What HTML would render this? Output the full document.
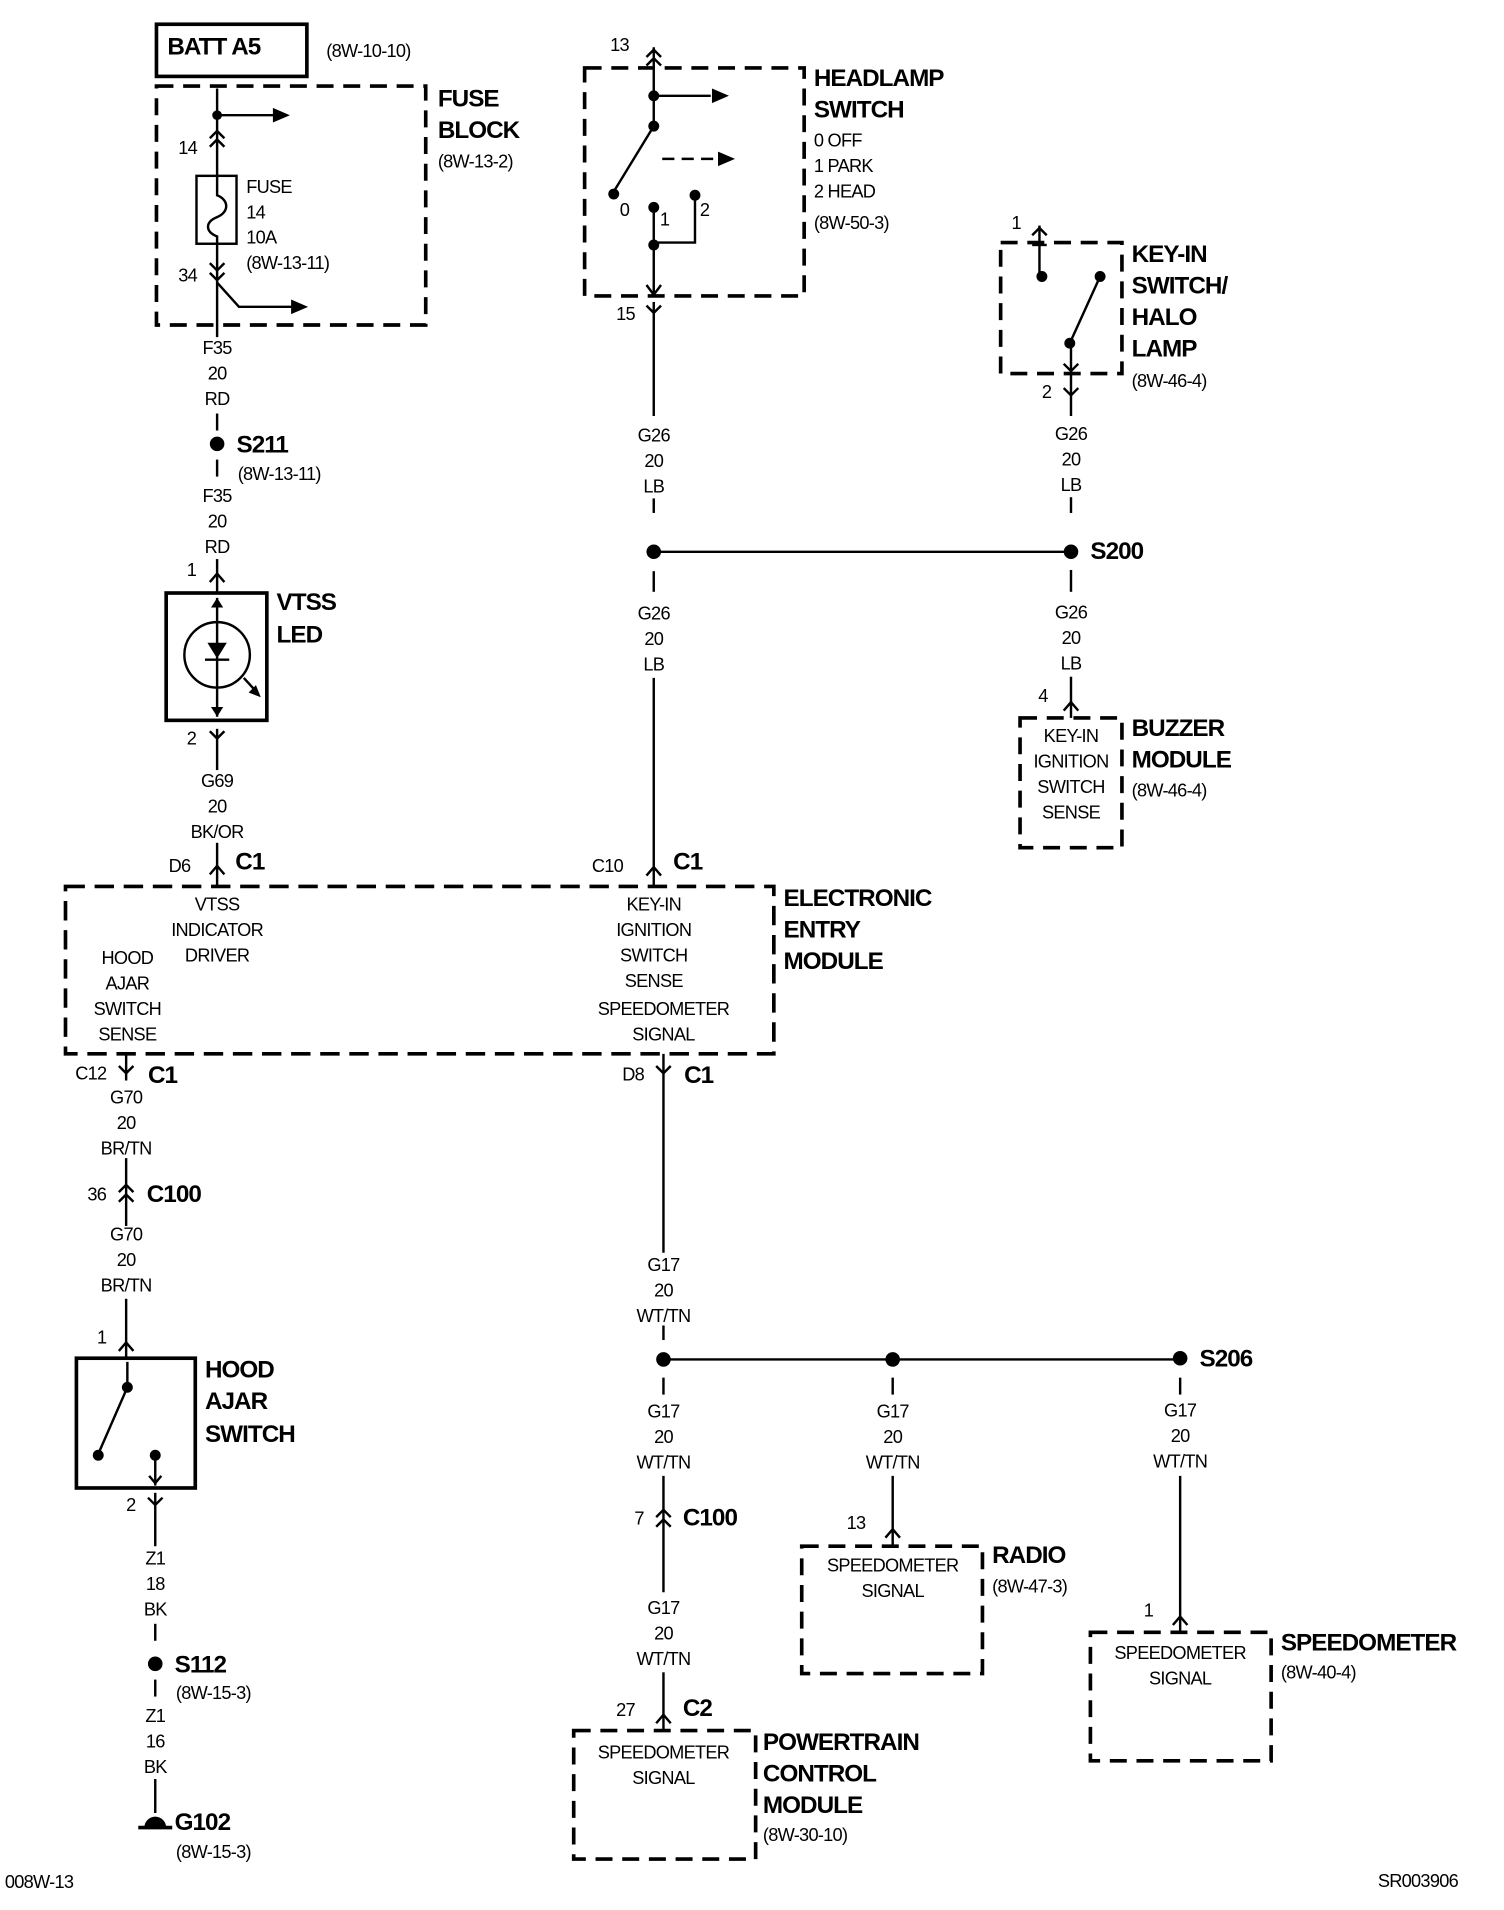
<!DOCTYPE html>
<html><head><meta charset="utf-8"><style>
html,body{margin:0;padding:0;background:#fff}
svg{display:block}
text{font-family:"Liberation Sans",sans-serif;fill:#000}
.s{font-size:15px;letter-spacing:-0.6px}
.b{font-size:20px;font-weight:bold;letter-spacing:-0.8px}
.c{text-anchor:middle}
</style></head><body>
<svg width="1504" height="1910" viewBox="0 0 1240 1575" preserveAspectRatio="none" xmlns="http://www.w3.org/2000/svg">
<g transform="translate(1,3)">
<g fill="none" stroke="#000" stroke-width="2">
<rect x="128" y="17" width="124" height="43" stroke-width="3"/>
<rect x="128" y="68" width="222" height="197" stroke-width="3" stroke-dasharray="14,8"/>
<line x1="178" y1="70" x2="178" y2="142"/>
<line x1="178" y1="92" x2="225" y2="92"/>
<polyline points="172,111 178,105 184,111"/><polyline points="172,118 178,112 184,118"/>
<rect x="161" y="142" width="33" height="56"/>
<path d="M178,142 L178,158 C188,162 188,172 178,176 C168,180 168,188 178,192 L178,198"/>
<line x1="178" y1="198" x2="178" y2="275"/>
<polyline points="172,214 178,220 184,214"/><polyline points="172,222 178,228 184,222"/>
<polyline points="178,230 196,250 240,250"/>
<line x1="178" y1="338" x2="178" y2="352"/><line x1="178" y1="376" x2="178" y2="390"/>
<line x1="178" y1="458" x2="178" y2="486"/>
<polyline points="172,477 178,470 184,477"/>
<rect x="136" y="486" width="83" height="105" stroke-width="3"/>
<circle cx="178" cy="537" r="27"/>
<line x1="178" y1="490" x2="178" y2="588"/>
<line x1="168" y1="541" x2="188" y2="541"/>
<line x1="178" y1="598" x2="178" y2="632"/>
<polyline points="172,600 178,606 184,600"/>
<line x1="200" y1="556" x2="210" y2="567"/>
<line x1="178" y1="692" x2="178" y2="728"/>
<polyline points="172,718 178,711 184,718"/>
<rect x="53" y="728" width="584" height="138" stroke-width="3" stroke-dasharray="16,8"/>
<line x1="103" y1="866" x2="103" y2="888"/>
<polyline points="97,876 103,882 109,876"/>
<line x1="103" y1="952" x2="103" y2="1008"/>
<polyline points="97,980 103,974 109,980"/><polyline points="97,988 103,982 109,988"/>
<line x1="103" y1="1068" x2="103" y2="1117"/>
<polyline points="97,1111 103,1104 109,1111"/>
<rect x="62" y="1117" width="98" height="107" stroke-width="3"/>
<line x1="104" y1="1120" x2="104" y2="1141"/>
<line x1="104" y1="1141" x2="80" y2="1196"/>
<line x1="127" y1="1197" x2="127" y2="1222"/>
<polyline points="122,1214 127,1220 132,1214"/>
<line x1="127" y1="1228" x2="127" y2="1272"/>
<polyline points="121,1232 127,1238 133,1232"/>
<line x1="127" y1="1336" x2="127" y2="1350"/><line x1="127" y1="1382" x2="127" y2="1396"/>
<line x1="127" y1="1464" x2="127" y2="1492"/>
<line x1="113" y1="1504" x2="141" y2="1504" stroke-width="3"/>
<rect x="481" y="53" width="181" height="188" stroke-width="3" stroke-dasharray="14,8"/>
<line x1="538" y1="36" x2="538" y2="101"/>
<polyline points="532,44 538,38 544,44"/><polyline points="532,51 538,45 544,51"/>
<line x1="538" y1="76" x2="585" y2="76"/>
<line x1="538" y1="101" x2="505" y2="155"/>
<line x1="545" y1="128" x2="590" y2="128" stroke-dasharray="10,6"/>
<polyline points="538,168 538,240"/>
<polyline points="572,158 572,197 538,197"/>
<polyline points="532,232 538,240 544,232"/>
<line x1="538" y1="246" x2="538" y2="340"/>
<polyline points="532,249 538,255 544,249"/>
<line x1="538" y1="408" x2="538" y2="420"/>
<line x1="538" y1="452" x2="882" y2="452"/>
<line x1="538" y1="468" x2="538" y2="485"/>
<line x1="538" y1="556" x2="538" y2="728"/>
<polyline points="532,719 538,712 544,719"/>
<rect x="824" y="197" width="100" height="108" stroke-width="3" stroke-dasharray="14,8"/>
<line x1="856" y1="183" x2="856" y2="225"/>
<polyline points="850,191 856,185 862,191"/>
<line x1="850" y1="199" x2="862" y2="199"/>
<line x1="906" y1="225" x2="881" y2="280"/>
<line x1="882" y1="280" x2="882" y2="340"/>
<polyline points="876,297 882,303 888,297"/>
<polyline points="876,317 882,323 888,317"/>
<line x1="882" y1="407" x2="882" y2="420"/>
<line x1="882" y1="467" x2="882" y2="485"/>
<line x1="882" y1="555" x2="882" y2="589"/>
<polyline points="876,583 882,576 888,583"/>
<rect x="840" y="589" width="84" height="107" stroke-width="3" stroke-dasharray="14,8"/>
<line x1="546" y1="866" x2="546" y2="1030"/>
<polyline points="540,876 546,882 552,876"/>
<line x1="546" y1="1090" x2="546" y2="1102"/>
<line x1="546" y1="1118" x2="972" y2="1118"/>
<line x1="546" y1="1133" x2="546" y2="1147"/>
<line x1="735" y1="1133" x2="735" y2="1147"/>
<line x1="972" y1="1133" x2="972" y2="1147"/>
<line x1="546" y1="1214" x2="546" y2="1310"/>
<polyline points="540,1248 546,1242 552,1248"/><polyline points="540,1256 546,1250 552,1256"/>
<line x1="546" y1="1376" x2="546" y2="1424"/>
<polyline points="540,1418 546,1411 552,1418"/>
<rect x="472" y="1424" width="150" height="106" stroke-width="3" stroke-dasharray="14,8"/>
<line x1="735" y1="1214" x2="735" y2="1272"/>
<polyline points="729,1265 735,1258 741,1265"/>
<rect x="660" y="1272" width="149" height="105" stroke-width="3" stroke-dasharray="14,8"/>
<line x1="972" y1="1214" x2="972" y2="1343"/>
<polyline points="966,1337 972,1330 978,1337"/>
<rect x="898" y="1343" width="149" height="106" stroke-width="3" stroke-dasharray="14,8"/>
</g>
<g fill="#000" stroke="none">
<polygon points="238,92 224,86 224,98"/>
<polygon points="253,250 239,244 239,256"/>
<circle cx="178" cy="92" r="4"/>
<circle cx="178" cy="363" r="6"/>
<polygon points="170,527 186,527 178,540"/>
<polygon points="178,490 173,498 183,498"/>
<polygon points="178,588 173,580 183,580"/>
<polygon points="214,572 204,568 210,562"/>
<circle cx="104" cy="1141" r="4.5"/><circle cx="80" cy="1197" r="4.5"/><circle cx="127" cy="1197" r="4.5"/>
<circle cx="127" cy="1369" r="6"/>
<path d="M118,1504 A9,9 0 0 1 136,1504 Z"/>
<polygon points="600,76 586,70 586,82"/>
<polygon points="605,128 591,122 591,134"/>
<circle cx="538" cy="76" r="4.5"/><circle cx="538" cy="101" r="4.5"/><circle cx="505" cy="157" r="4.5"/>
<circle cx="538" cy="168" r="4.5"/><circle cx="572" cy="158" r="4.5"/><circle cx="538" cy="199" r="4.5"/>
<circle cx="538" cy="452" r="6"/><circle cx="882" cy="452" r="6"/>
<circle cx="858" cy="225" r="4.5"/><circle cx="906" cy="225" r="4.5"/><circle cx="881" cy="280" r="4.5"/>
<circle cx="546" cy="1118" r="6"/><circle cx="735" cy="1118" r="6"/><circle cx="972" cy="1117" r="6"/>
</g>
<text class="b" x="137" y="42">BATT A5</text>
<text class="s" x="268" y="44">(8W-10-10)</text>
<text class="b" x="360" y="85">FUSE</text><text class="b" x="360" y="111">BLOCK</text>
<text class="s" x="360" y="135">(8W-13-2)</text>
<text class="s" x="146" y="124">14</text>
<text class="s" x="202" y="156">FUSE</text><text class="s" x="202" y="177">14</text><text class="s" x="202" y="198">10A</text><text class="s" x="202" y="219">(8W-13-11)</text>
<text class="s" x="146" y="229">34</text>
<g class="s c"><text x="178" y="289">F35</text><text x="178" y="310">20</text><text x="178" y="331">RD</text>
<text x="178" y="411">F35</text><text x="178" y="432">20</text><text x="178" y="453">RD</text>
<text x="178" y="646">G69</text><text x="178" y="667">20</text><text x="178" y="688">BK/OR</text></g>
<text class="b" x="194" y="370">S211</text><text class="s" x="195" y="393">(8W-13-11)</text>
<text class="s" x="153" y="472">1</text>
<text class="b" x="227" y="500">VTSS</text><text class="b" x="227" y="527">LED</text>
<text class="s" x="153" y="611">2</text>
<text class="s" x="138" y="716">D6</text><text class="b" x="193" y="714">C1</text>
<g class="s c"><text x="178" y="748">VTSS</text><text x="178" y="769">INDICATOR</text><text x="178" y="790">DRIVER</text>
<text x="104" y="792">HOOD</text><text x="104" y="813">AJAR</text><text x="104" y="834">SWITCH</text><text x="104" y="855">SENSE</text>
<text x="538" y="748">KEY-IN</text><text x="538" y="769">IGNITION</text><text x="538" y="790">SWITCH</text><text x="538" y="811">SENSE</text>
<text x="546" y="834">SPEEDOMETER</text><text x="546" y="855">SIGNAL</text></g>
<text class="b" x="645" y="744">ELECTRONIC</text><text class="b" x="645" y="770">ENTRY</text><text class="b" x="645" y="796">MODULE</text>
<text class="s" x="61" y="887">C12</text><text class="b" x="121" y="890">C1</text>
<g class="s c"><text x="103" y="907">G70</text><text x="103" y="928">20</text><text x="103" y="949">BR/TN</text>
<text x="103" y="1020">G70</text><text x="103" y="1041">20</text><text x="103" y="1062">BR/TN</text></g>
<text class="s" x="71" y="987">36</text><text class="b" x="120" y="988">C100</text>
<text class="s" x="79" y="1105">1</text>
<text class="b" x="168" y="1133">HOOD</text><text class="b" x="168" y="1159">AJAR</text><text class="b" x="168" y="1186">SWITCH</text>
<text class="s" x="103" y="1243">2</text>
<g class="s c"><text x="127" y="1287">Z1</text><text x="127" y="1308">18</text><text x="127" y="1329">BK</text>
<text x="127" y="1417">Z1</text><text x="127" y="1438">16</text><text x="127" y="1459">BK</text></g>
<text class="b" x="143" y="1376">S112</text><text class="s" x="144" y="1398">(8W-15-3)</text>
<text class="b" x="143" y="1506">G102</text><text class="s" x="144" y="1529">(8W-15-3)</text>
<text class="s" x="502" y="39">13</text>
<text class="b" x="670" y="68">HEADLAMP</text><text class="b" x="670" y="94">SWITCH</text>
<text class="s" x="670" y="118">0 OFF</text><text class="s" x="670" y="139">1 PARK</text><text class="s" x="670" y="160">2 HEAD</text><text class="s" x="670" y="186">(8W-50-3)</text>
<text class="s" x="510" y="175">0</text><text class="s" x="543" y="183">1</text><text class="s" x="576" y="175">2</text>
<text class="s" x="507" y="261">15</text>
<g class="s c"><text x="538" y="361">G26</text><text x="538" y="382">20</text><text x="538" y="403">LB</text>
<text x="538" y="508">G26</text><text x="538" y="529">20</text><text x="538" y="550">LB</text>
<text x="882" y="360">G26</text><text x="882" y="381">20</text><text x="882" y="402">LB</text>
<text x="882" y="507">G26</text><text x="882" y="528">20</text><text x="882" y="549">LB</text></g>
<text class="s" x="487" y="716">C10</text><text class="b" x="554" y="714">C1</text>
<text class="s" x="833" y="186">1</text>
<text class="b" x="932" y="213">KEY-IN</text><text class="b" x="932" y="239">SWITCH/</text><text class="b" x="932" y="265">HALO</text><text class="b" x="932" y="291">LAMP</text>
<text class="s" x="932" y="316">(8W-46-4)</text>
<text class="s" x="858" y="325">2</text>
<text class="b" x="898" y="458">S200</text>
<text class="s" x="855" y="576">4</text>
<g class="s c"><text x="882" y="609">KEY-IN</text><text x="882" y="630">IGNITION</text><text x="882" y="651">SWITCH</text><text x="882" y="672">SENSE</text></g>
<text class="b" x="932" y="604">BUZZER</text><text class="b" x="932" y="630">MODULE</text><text class="s" x="932" y="654">(8W-46-4)</text>
<text class="s" x="512" y="888">D8</text><text class="b" x="563" y="890">C1</text>
<g class="s c"><text x="546" y="1045">G17</text><text x="546" y="1066">20</text><text x="546" y="1087">WT/TN</text>
<text x="546" y="1166">G17</text><text x="546" y="1187">20</text><text x="546" y="1208">WT/TN</text>
<text x="735" y="1166">G17</text><text x="735" y="1187">20</text><text x="735" y="1208">WT/TN</text>
<text x="972" y="1165">G17</text><text x="972" y="1186">20</text><text x="972" y="1207">WT/TN</text>
<text x="546" y="1328">G17</text><text x="546" y="1349">20</text><text x="546" y="1370">WT/TN</text></g>
<text class="b" x="988" y="1124">S206</text>
<text class="s" x="522" y="1254">7</text><text class="b" x="562" y="1255">C100</text>
<text class="s" x="507" y="1412">27</text><text class="b" x="562" y="1412">C2</text>
<g class="s c"><text x="546" y="1447">SPEEDOMETER</text><text x="546" y="1468">SIGNAL</text>
<text x="735" y="1293">SPEEDOMETER</text><text x="735" y="1314">SIGNAL</text>
<text x="972" y="1365">SPEEDOMETER</text><text x="972" y="1386">SIGNAL</text></g>
<text class="b" x="628" y="1440">POWERTRAIN</text><text class="b" x="628" y="1466">CONTROL</text><text class="b" x="628" y="1492">MODULE</text><text class="s" x="628" y="1515">(8W-30-10)</text>
<text class="s" x="697" y="1258">13</text>
<text class="b" x="817" y="1286">RADIO</text><text class="s" x="817" y="1310">(8W-47-3)</text>
<text class="s" x="942" y="1330">1</text>
<text class="b" x="1055" y="1358">SPEEDOMETER</text><text class="s" x="1055" y="1381">(8W-40-4)</text>
<text class="s" x="3" y="1554">008W-13</text><text class="s" x="1135" y="1553">SR003906</text>
</g>
</svg>
</body></html>
